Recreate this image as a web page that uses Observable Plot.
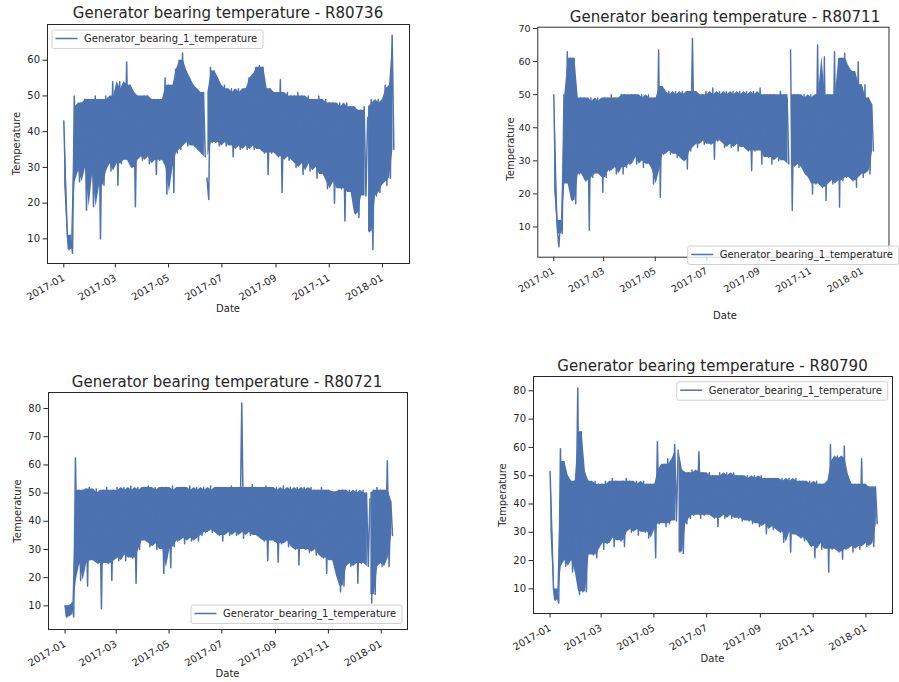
<!DOCTYPE html>
<html><head><meta charset="utf-8">
<script src="https://cdn.jsdelivr.net/npm/d3@7"></script>
<script src="https://cdn.jsdelivr.net/npm/@observablehq/plot@0.6"></script>
<style>
html,body{margin:0;padding:0;background:#fff;overflow:hidden;}
#page{position:relative;width:899px;height:682px;overflow:hidden;background:#fff;font-family:"DejaVu Sans",sans-serif;}
.pw{position:absolute;}
#overlay{position:absolute;left:0;top:0;pointer-events:none;}
</style></head>
<body><div id="page"></div>
<script>
// ---------- data ----------
const seriesName = "Generator_bearing_1_temperature";
const turbines = ["R80736", "R80711", "R80721", "R80790"];
const xTickLabels = ["2017-01","2017-03","2017-05","2017-07","2017-09","2017-11","2018-01"];
const yTicks736 = [10,20,30,40,50,60];
const yTicks711 = [10,20,30,40,50,60,70];
const yTicks721 = [10,20,30,40,50,60,70,80];
const yTicks790 = [10,20,30,40,50,60,70,80];
const sampleStart = "2017-01-01";
const sampleStepDays = 4;   // each step: a high reading, then a low reading 2 days later

// days (since sampleStart) where the record has a short data gap
const gaps736 = [163, 349];
const gaps711 = [279];
const gaps721 = [353];
const gaps790 = [149];

const hi736 = [43,11,10,50,47,48,49,49,49,50, 49,49,50,48,54,50,54,52,59.5,53, 51,50,49,50,50,49,49,49,48,55, 53,51,57.5,60,62,57,55,53,52,51, 51,27,58,57,55,52,53,51,52,51, 52,50,52,55,56,58,58.5,58,52,52, 51,51,54.5,50,51,50,50,51,50,49, 50,49,49,50,48,49,48,48,47,48, 47,48,47,47,46,46,47,44,49,48, 49,48,53,52,67];
const lo736 = [25,7,6,29,26,30,18,30,19,28, 10,25,31,29,32,25,31,33,32,30, 19,33,32,33,31,33,28,32,33,22.5, 30,23,34,35,37,36,38,36,35,34, 33,21,37,37,36,37,36,37,33,36, 35,36,35,36,35,36,35,34,28,34, 35,33,23,34,32,33,30,31,28,33, 29,31,27,30,28,24,26,20,27,24, 15,26,23,17,16,24,22,12,7,22, 23,26,25,27,35];

const hi711 = [50,10,12,50,63,61,61,49,49,49, 48,49,48,49,48,49,49,50,49,49, 50,50,49,50,50,49,50,49,50,49, 49,63.5,52.5,50,51,50,51,50,51,50, 51,67,51,50,50,51,50,52,50,51, 50,51,50,51,50,51,50,51,50,51, 50,52,50,50,50,50,49,51,50,49, 63.5,50,50,49,50,49,50,49,65,50, 61.5,50,49,63,50,61,62.5,58.5,57,53, 60,49,53,49,47];
const lo711 = [21,4,8,25,23,18,17,26,27,24, 9,25,27,26,20.5,25,27,28,26,29, 26,28,29,31,29,31,28,30,29,23, 27,19,32,33,32,33,31,32,30,27.5, 33,35,34,36,35,36,35,30.5,36,36, 34,35,34,35,33,35,34,33,27,33, 34,29,33,31,29,31,30,32,30,29, 15,31,28,29,26,25,20,23,25,22, 18,24,23,25,16,24,25,26,24,22, 26,25,27,26,33];

const hi721 = [10,10,11,62.5,51,50,51.5,52,50,51.5, 50,51,52,50.5,51,52,50,52,51,52.5, 51,52,50,52,52.5,51,52,50.5,52,52, 51,52.5,51,52,52,51,52.5,51,52,51, 52,51,52.5,51,52,52,51,52,52.5,51, 52,82,52,52,53,52,51.5,52,52.5,52, 51,52,51,52.5,51,52,51,52,51,52, 51,52,51,51,52,51,51,50.5,50,51, 51,50,51,50,51,50,51,50,48,51, 52,51,51,61.5,47];
const lo721 = [6,7,6,26,19,25,17,29,26,25, 9,27,25,19,27,26,28,26,29,27, 18,30,34,33,31,32,30,33,21.5,30, 23.5,31,33,34,32,35,33,34,33,35, 36,37,36,38,35,33,36,35,37,35, 36,34,36,35,36,35,34,33,26,34, 33,25.5,32,33,31,33,30,24.5,31,30, 29,31,28,30,27,21.5,28,26,21,15, 17,25,24,27,18,25,26,24,11,14, 25,24,27,24,35];

const hi790 = [51.5,10,8,59.5,55,50,47,48,81,65.5, 51,48,47,48,47,47,48,47,49,48, 47,48,49,48,47,48,47,48,47,47, 47,62,52,54,56,54,61,59,52,50, 51,52,50,58.5,51,50,51,50,50,51, 50,51,50,51,50,50,49,50,49,50, 49,50,49,49,49,49,48,49,48,49, 48,49,48,48,47,48,47,48,47,47, 48,61,55,57,56,60.5,50,47,47,47, 56,47,46,46,46];
const lo790 = [30,6,5,25,18,20,16,29,8,9, 9,28,22,21,27,24,26,28,25,30, 27,25,31,30,32,29,31,30,28,31, 21,33,34,32,33,35,34,23,22.5,33, 35,36,37,35,36,37,36,35,32,36, 35,37,35,36,35,34,36,34,33,35, 32,33,29.5,33,31,32,30,26.5,31,23, 30,29,28,27,29,25,21,26,24,27, 16,24,25,23,20.5,24,25,23,25,24, 26,25,26,25,33];

// ---------- helpers ----------
const DAY = 864e5;
const t0 = Date.parse(sampleStart + "T00:00:00Z");
const dayToDate = d => new Date(t0 + d * DAY);
const xTicks = xTickLabels.map(s => new Date(s + "-01T00:00:00Z"));
function buildSeries(hi, lo, gaps) {
  const pts = [];
  hi.forEach((h, i) => {
    pts.push({day: i * sampleStepDays, value: h});
    pts.push({day: i * sampleStepDays + sampleStepDays / 2, value: lo[i]});
  });
  gaps.forEach(g => pts.push({day: g - 0.01, value: NaN}));
  return d3.sort(pts, d => d.day).map(d => ({date: dayToDate(d.day), value: d.value}));
}
// dense core of the band: 3-sample running median of the readings (isolated spikes stay thin lines)
function med3(a, i) {
  if (i === 0 || i === a.length - 1) return a[i];
  return d3.median([a[i - 1], a[i], a[i + 1]]);
}
function buildBand(hi, lo, gaps) {
  const pts = hi.map((h, i) => {
    const y1 = med3(lo, i);
    const y2 = Math.max(med3(hi, i), y1);
    return {day: i * sampleStepDays + 1, y1, y2};
  });
  gaps.forEach(g => pts.push({day: g - 0.01, y1: NaN, y2: NaN}));
  return d3.sort(pts, d => d.day).map(d => ({date: dayToDate(d.day), y1: d.y1, y2: d.y2}));
}

// ---------- layout ----------
const panels = [
  {name: turbines[0], hi: hi736, lo: lo736, gaps: gaps736, yTicks: yTicks736, left: 0, top: 0, w: 450, h: 340, ml: 47, mr: 41, mt: 24, mb: 77, xd: [-18.67, 395.9], yd: [3.1, 70.0],
   title: [228, 18], ylab: [16, 143.5], xlab: [228, 308.5], leg: [52, 30]},
  {name: turbines[1], hi: hi711, lo: lo711, gaps: gaps711, yTicks: yTicks711, left: 460, top: 0, w: 460, h: 340, ml: 81, mr: 11, mt: 28, mb: 71, xd: [-18.9, 396.4], yd: [0.87, 70.4],
   title: [725, 22], ylab: [510, 149], xlab: [725, 315], leg: [687.7, 246]},
  {name: turbines[2], hi: hi721, lo: lo721, gaps: gaps721, yTicks: yTicks721, left: 0, top: 340, w: 450, h: 342, ml: 48, mr: 43, mt: 52, mb: 53, xd: [-19.1, 395.3], yd: [1.6, 85.7],
   title: [227, 387], ylab: [17, 511], xlab: [227.5, 673.5], leg: [191, 605]},
  {name: turbines[3], hi: hi790, lo: lo790, gaps: gaps790, yTicks: yTicks790, left: 460, top: 340, w: 439, h: 342, ml: 73, mr: 7, mt: 36, mb: 69, xd: [-19.15, 395.7], yd: [1.3, 85.05],
   title: [712.5, 371], ylab: [502, 495], xlab: [712.5, 658.5], leg: [676.7, 381.7]}
];

const page = document.getElementById("page");
const color = "#4c72b0";
const ink = "#262626";

for (const p of panels) {
  const svg = Plot.plot({
    width: p.w, height: p.h,
    marginLeft: p.ml, marginRight: p.mr, marginTop: p.mt, marginBottom: p.mb,
    style: {fontFamily: "DejaVu Sans", fontSize: "10px", color: ink, background: "transparent", overflow: "visible"},
    x: {type: "utc", domain: [dayToDate(p.xd[0]), dayToDate(p.xd[1])]},
    y: {domain: p.yd},
    marks: [
      Plot.areaY(buildBand(p.hi, p.lo, p.gaps), {x: "date", y1: "y1", y2: "y2", fill: color}),
      Plot.line(buildSeries(p.hi, p.lo, p.gaps), {x: "date", y: "value", stroke: color, strokeWidth: 1.5}),
      Plot.frame({stroke: ink, strokeWidth: 1}),
      Plot.axisX({ticks: xTicks, tickFormat: d3.utcFormat("%Y-%m"), tickRotate: -30, tickSize: 4.5, tickPadding: 9, label: null}),
      Plot.axisY({ticks: p.yTicks, tickSize: 4.5, tickPadding: 3, label: null})
    ]
  });
  const wrap = document.createElement("div");
  wrap.className = "pw";
  wrap.style.left = p.left + "px";
  wrap.style.top = p.top + "px";
  wrap.appendChild(svg);
  page.appendChild(wrap);
}

// ---------- text overlay: titles, axis labels, legends ----------
const ov = d3.select(page).append("svg").attr("id", "overlay").attr("width", 899).attr("height", 682)
  .style("font-family", "DejaVu Sans").attr("fill", ink);
for (const p of panels) {
  ov.append("text").attr("x", p.title[0]).attr("y", p.title[1]).attr("text-anchor", "middle")
    .attr("font-size", 15).text("Generator bearing temperature - " + p.name);
  ov.append("text").attr("transform", `translate(${p.ylab[0]},${p.ylab[1]}) rotate(-90)`)
    .attr("text-anchor", "middle").attr("dy", "0.35em").attr("font-size", 10).text("Temperature");
  ov.append("text").attr("x", p.xlab[0]).attr("y", p.xlab[1]).attr("text-anchor", "middle")
    .attr("dy", "0.35em").attr("font-size", 10).text("Date");
  const [bx, by] = p.leg;
  ov.append("rect").attr("x", bx).attr("y", by).attr("width", 211).attr("height", 18.5).attr("rx", 2)
    .attr("fill", "#fff").attr("fill-opacity", 0.8).attr("stroke", "#d0d0d0").attr("stroke-width", 1);
  ov.append("line").attr("x1", bx + 3.5).attr("x2", bx + 25.5).attr("y1", by + 8.5).attr("y2", by + 8.5)
    .attr("stroke", color).attr("stroke-width", 1.5);
  ov.append("text").attr("x", bx + 32).attr("y", by + 8.5).attr("dy", "0.35em").attr("font-size", 10)
    .text(seriesName);
}
</script>
</body></html>
